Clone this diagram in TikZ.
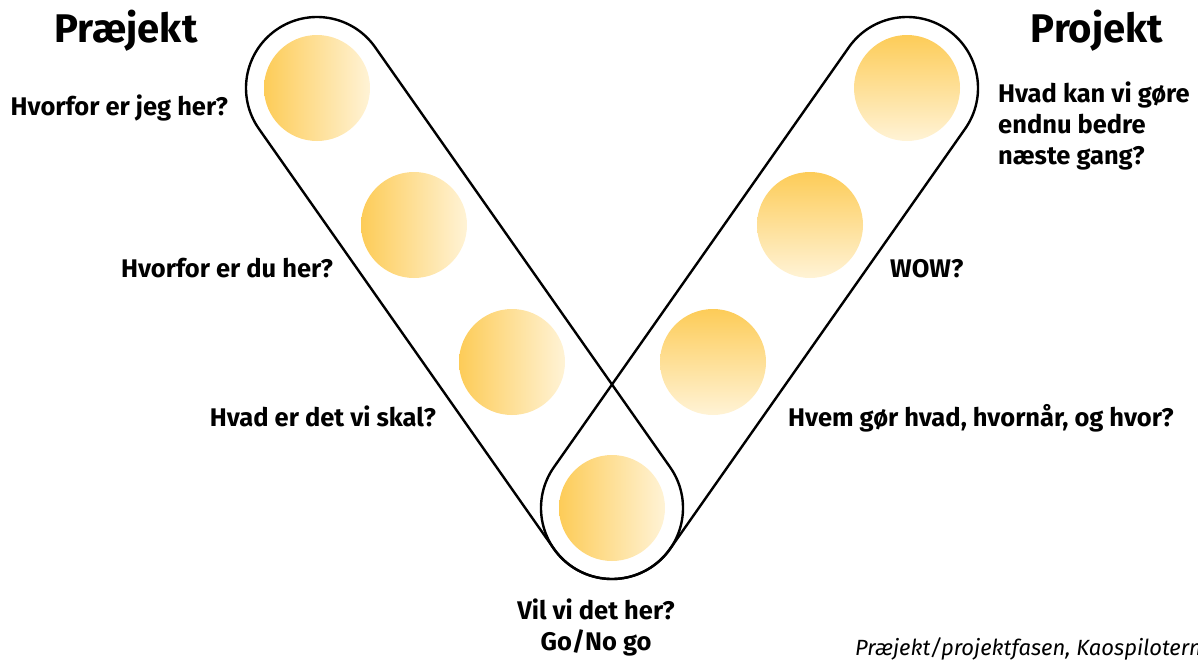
\documentclass[tikz,border=0pt]{standalone}
\usepackage{fontspec}
\setmainfont{Fira Sans}
\usetikzlibrary{calc,positioning,shapes}

\definecolor{sunDark}{RGB}{253,204,88}
\definecolor{sunPale}{RGB}{255,243,214}

\tikzset{
  sunlr/.style={circle, inner sep=0pt, minimum size=106pt, left color=sunDark, right color=sunPale},
  suntb/.style={circle, inner sep=0pt, minimum size=106pt, top color=sunDark, bottom color=sunPale},
  capsule/.style={draw=black, line width=2.4pt},
  phase/.style={font=\fontsize{40}{44}\selectfont\bfseries},
  question/.style={font=\fontsize{25.5}{31}\selectfont\bfseries, inner sep=0pt}
}

\begin{document}
\begin{tikzpicture}[x=1pt, y=1pt]
      %\draw[help lines] (0, -659) grid (1198, 0);
      \useasboundingbox (0, 0) rectangle (1198, -659);

      % left leg
      \node [sunlr] (p1) at (317, -88) {};
      \node [sunlr] (p2) at (414, -225) {};
      \node [sunlr] (p3) at (512, -362) {};
      % bottom
      \node [sunlr] (p4) at (612, -508) {};
      % right leg
      \node [suntb] (p5) at (713, -362) {};
      \node [suntb] (p6) at (810, -225) {};
      \node [suntb] (p7) at (907, -88) {};

      \draw[capsule] ($(p1.center)+(35.09:71)$) -- ($(p4.center)+(35.09:71)$)
            arc[start angle=35.09, end angle=-144.91, radius=71]
            -- ($(p1.center)+(-144.91:71)$)
            arc[start angle=-144.91, end angle=-324.91, radius=71] -- cycle;
      \draw[capsule] ($(p7.center)+(-35.09:71)$) -- ($(p4.center)+(-35.09:71)$)
            arc[start angle=-35.09, end angle=-215.09, radius=71]
            -- ($(p7.center)+(-215.09:71)$)
            arc[start angle=-215.09, end angle=-395.09, radius=71] -- cycle;

      \node [phase, anchor=base] (praejekt) at (126, -42) {Præjekt};
      \node [phase, anchor=base] (projekt) at (1097, -42) {Projekt};

      \node [question, anchor=base east] (q1) at (228, -115) {Hvorfor er jeg her?};
      \node [question, anchor=base east] (q2) at (333, -277) {Hvorfor er du her?};
      \node [question, anchor=base east] (q3) at (436, -426) {Hvad er det vi skal?};

      \node [question, anchor=north, align=center] (q4) at (596, -599) {Vil vi det her?\\Go/No go};

      \node [question, anchor=base west] (q5) at (788, -426) {Hvem gør hvad, hvornår, og hvor?};
      \node [question, anchor=base west] (q6) at (890, -277) {WOW?};
      \node [question, anchor=north west, align=left] (q7) at (998, -82) {Hvad kan vi gøre\\endnu bedre\\næste gang?};

      \node [anchor=base west, inner sep=0pt, font=\fontsize{22}{26}\selectfont\itshape] (credit) at (855, -655) {Præjekt/projektfasen, Kaospiloterne};
\end{tikzpicture}
\end{document}
